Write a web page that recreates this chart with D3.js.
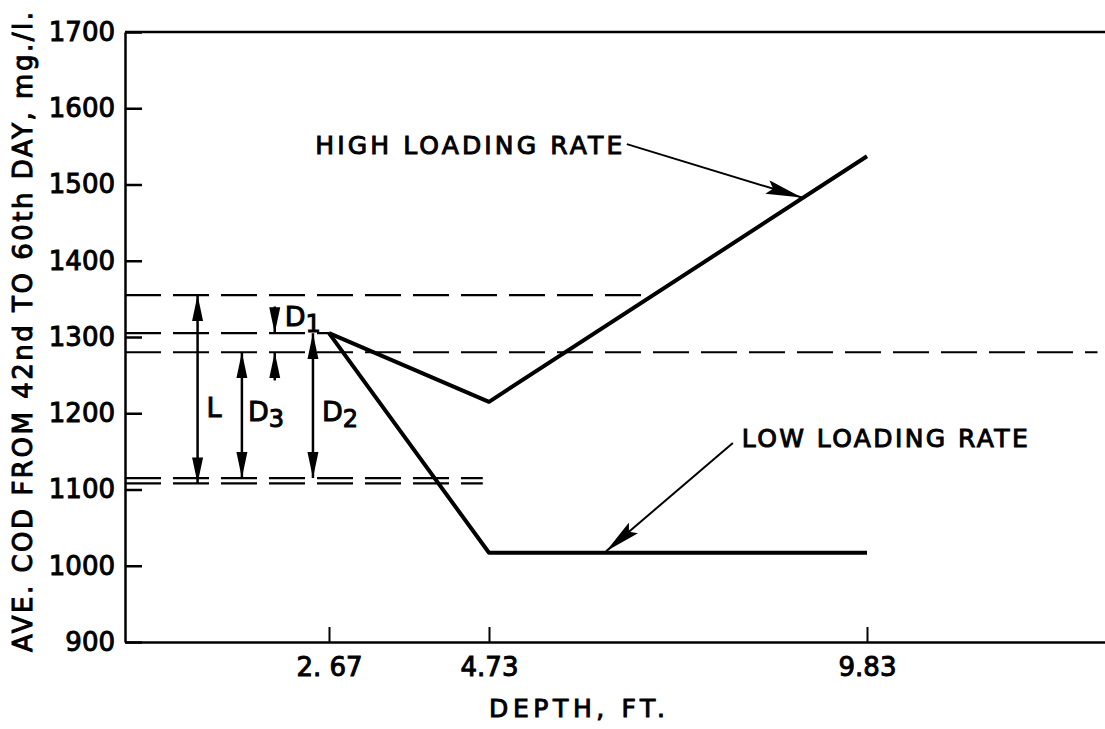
<!DOCTYPE html>
<html>
<head>
<meta charset="utf-8">
<script src="https://cdn.jsdelivr.net/npm/d3@7"></script>
<style>
body { margin: 0; background: white; }
text { font-family: "DejaVu Sans", sans-serif; fill: black; stroke: black; stroke-width: 1px; }
</style>
</head>
<body>
<div id="chart"></div>
<script>
// values
const depths = [2.67, 4.73, 9.83];
const depthLabels = ["2. 67", "4.73", "9.83"];
const highRate = [1305, 1215, 1537];
const lowRate = [1305, 1017, 1017];
const codTicks = [900, 1000, 1100, 1200, 1300, 1400, 1500, 1600, 1700];

// dashed reference levels and how far right each one runs (depth)
const refLevels = [1355, 1305, 1280, 1115, 1108];
const refEnds = [6.9, 2.67, 12.9, 4.65, 4.65];

// dimension arrows L, D3, D2
const dimNames = ["L", "D3", "D2"];
const dimDepths = [0.95, 1.53, 2.46];
const dimTops = [1355, 1280, 1305];
const dimBottoms = [1108, 1115, 1115];

// D1 pointer arrows
const d1Depth = 1.96;
const d1From = [1340, 1243];
const d1To = [1305, 1280];

const width = 1105,
height = 729,
margin = { top: 32, bottom: 87, left: 125, right: 0 };

const svg = d3.select('#chart')
.append('svg')
.attr('width', width)
.attr('height', height);

// x scale is piecewise, the drawing is not quite linear in depth
const xScale = d3.scaleLinear()
.domain([0, 2.67, 4.73, 9.83, 13])
.range([margin.left, 329, 489, 867, width]);

const yScale = d3.scaleLinear()
.domain([900, 1700])
.range([height - margin.bottom, margin.top]);

// arrow heads
const defs = svg.append('defs');
defs.append('marker')
.attr('id', 'dim')
.attr('viewBox', '0 -6 26 12')
.attr('refX', 26)
.attr('refY', 0)
.attr('markerWidth', 26)
.attr('markerHeight', 12)
.attr('markerUnits', 'userSpaceOnUse')
.attr('orient', 'auto-start-reverse')
.append('path')
.attr('d', 'M0,-5.5L26,0L0,5.5Z')
.attr('fill', 'black');

defs.append('marker')
.attr('id', 'callout')
.attr('viewBox', '0 -7 36 14')
.attr('refX', 36)
.attr('refY', 0)
.attr('markerWidth', 36)
.attr('markerHeight', 14)
.attr('markerUnits', 'userSpaceOnUse')
.attr('orient', 'auto')
.append('path')
.attr('d', 'M0,-7L36,0L0,7L6,0Z')
.attr('fill', 'black');

// y axis, ticks pointing inward
const yAxis = d3.axisLeft(yScale)
.tickValues(codTicks)
.tickSizeInner(-17)
.tickSizeOuter(0)
.tickPadding(10)
.tickFormat(d3.format('d'));

const yG = svg.append('g')
.attr('transform', `translate(${margin.left},0)`)
.call(yAxis);
yG.select('.domain').attr('stroke-width', 2.5);
yG.selectAll('.tick line').attr('stroke-width', 2.5);
yG.selectAll('text').style('font-size', '26px');

// x axis
const xAxis = d3.axisBottom(xScale)
.tickValues(depths)
.tickSizeInner(-15)
.tickSizeOuter(0)
.tickPadding(16)
.tickFormat((d, i) => depthLabels[i]);

const xG = svg.append('g')
.attr('transform', `translate(0,${height - margin.bottom})`)
.call(xAxis);
xG.select('.domain').attr('stroke-width', 2.5);
xG.selectAll('.tick line').attr('stroke-width', 2);
xG.selectAll('text').style('font-size', '26px');

// top border line
svg.append('line')
.attr('x1', xScale(0))
.attr('x2', xScale(13))
.attr('y1', yScale(1700))
.attr('y2', yScale(1700))
.attr('stroke', 'black')
.attr('stroke-width', 2.5);

// dashed reference lines
svg.append('g')
.selectAll('line')
.data(refLevels)
.enter()
.append('line')
.attr('x1', xScale(0))
.attr('x2', (d, i) => xScale(refEnds[i]))
.attr('y1', d => yScale(d))
.attr('y2', d => yScale(d))
.attr('stroke', 'black')
.attr('stroke-width', 2.2)
.attr('stroke-dasharray', '36,12');

// the two loading rate lines
const line = d3.line()
.x((d, i) => xScale(depths[i]))
.y(d => yScale(d));

svg.append('path')
.datum(highRate)
.attr('d', line)
.attr('fill', 'none')
.attr('stroke', 'black')
.attr('stroke-width', 4)
.attr('stroke-linejoin', 'round');

svg.append('path')
.datum(lowRate)
.attr('d', line)
.attr('fill', 'none')
.attr('stroke', 'black')
.attr('stroke-width', 4)
.attr('stroke-linejoin', 'round');

// dimension arrows
svg.append('g')
.selectAll('line')
.data(dimDepths)
.enter()
.append('line')
.attr('x1', d => xScale(d))
.attr('x2', d => xScale(d))
.attr('y1', (d, i) => yScale(dimTops[i]))
.attr('y2', (d, i) => yScale(dimBottoms[i]))
.attr('stroke', 'black')
.attr('stroke-width', 2.5)
.attr('marker-start', 'url(#dim)')
.attr('marker-end', 'url(#dim)');

svg.append('g')
.selectAll('line')
.data(d1From)
.enter()
.append('line')
.attr('x1', xScale(d1Depth))
.attr('x2', xScale(d1Depth))
.attr('y1', d => yScale(d))
.attr('y2', (d, i) => yScale(d1To[i]))
.attr('stroke', 'black')
.attr('stroke-width', 2.5)
.attr('marker-end', 'url(#dim)');

// dimension labels with subscripts
const dimLabel = (name, x, y) => {
const t = svg.append('text')
.attr('x', x)
.attr('y', y)
.style('font-size', '27px');
t.append('tspan').text(name[0]);
if (name.length > 1) {
t.append('tspan')
.attr('dy', 6)
.style('font-size', '24px')
.text(name.slice(1));
}
};
dimLabel('L', xScale(dimDepths[0]) + 9, yScale(1195));
dimLabel('D3', xScale(dimDepths[1]) + 6, yScale(1190));
dimLabel('D2', xScale(dimDepths[2]) + 9, yScale(1190));
dimLabel('D1', xScale(d1Depth) + 10, yScale(1314));

// callouts
svg.append('text')
.attr('x', xScale(2.49))
.attr('y', yScale(1540))
.attr('textLength', 307)
.attr('lengthAdjust', 'spacing')
.style('font-size', '25px')
.text('HIGH  LOADING  RATE');

svg.append('line')
.attr('x1', xScale(6.59))
.attr('y1', yScale(1553))
.attr('x2', xScale(8.95))
.attr('y2', yScale(1483))
.attr('stroke', 'black')
.attr('stroke-width', 2)
.attr('marker-end', 'url(#callout)');

svg.append('text')
.attr('x', xScale(8.14))
.attr('y', yScale(1156))
.attr('textLength', 286)
.attr('lengthAdjust', 'spacing')
.style('font-size', '25px')
.text('LOW  LOADING  RATE');

svg.append('line')
.attr('x1', xScale(8.02))
.attr('y1', yScale(1161))
.attr('x2', xScale(6.31))
.attr('y2', yScale(1019))
.attr('stroke', 'black')
.attr('stroke-width', 2)
.attr('marker-end', 'url(#callout)');

// axis titles
svg.append('text')
.attr('x', 577)
.attr('y', 717)
.attr('text-anchor', 'middle')
.attr('textLength', 176)
.attr('lengthAdjust', 'spacing')
.style('font-size', '25px')
.text('DEPTH,  FT.');

svg.append('text')
.attr('transform', 'translate(32,332) rotate(-90)')
.attr('text-anchor', 'middle')
.attr('textLength', 640)
.attr('lengthAdjust', 'spacing')
.style('font-size', '26px')
.text('AVE.  COD  FROM  42nd  TO  60th  DAY, mg./l.');
</script>
</body>
</html>
